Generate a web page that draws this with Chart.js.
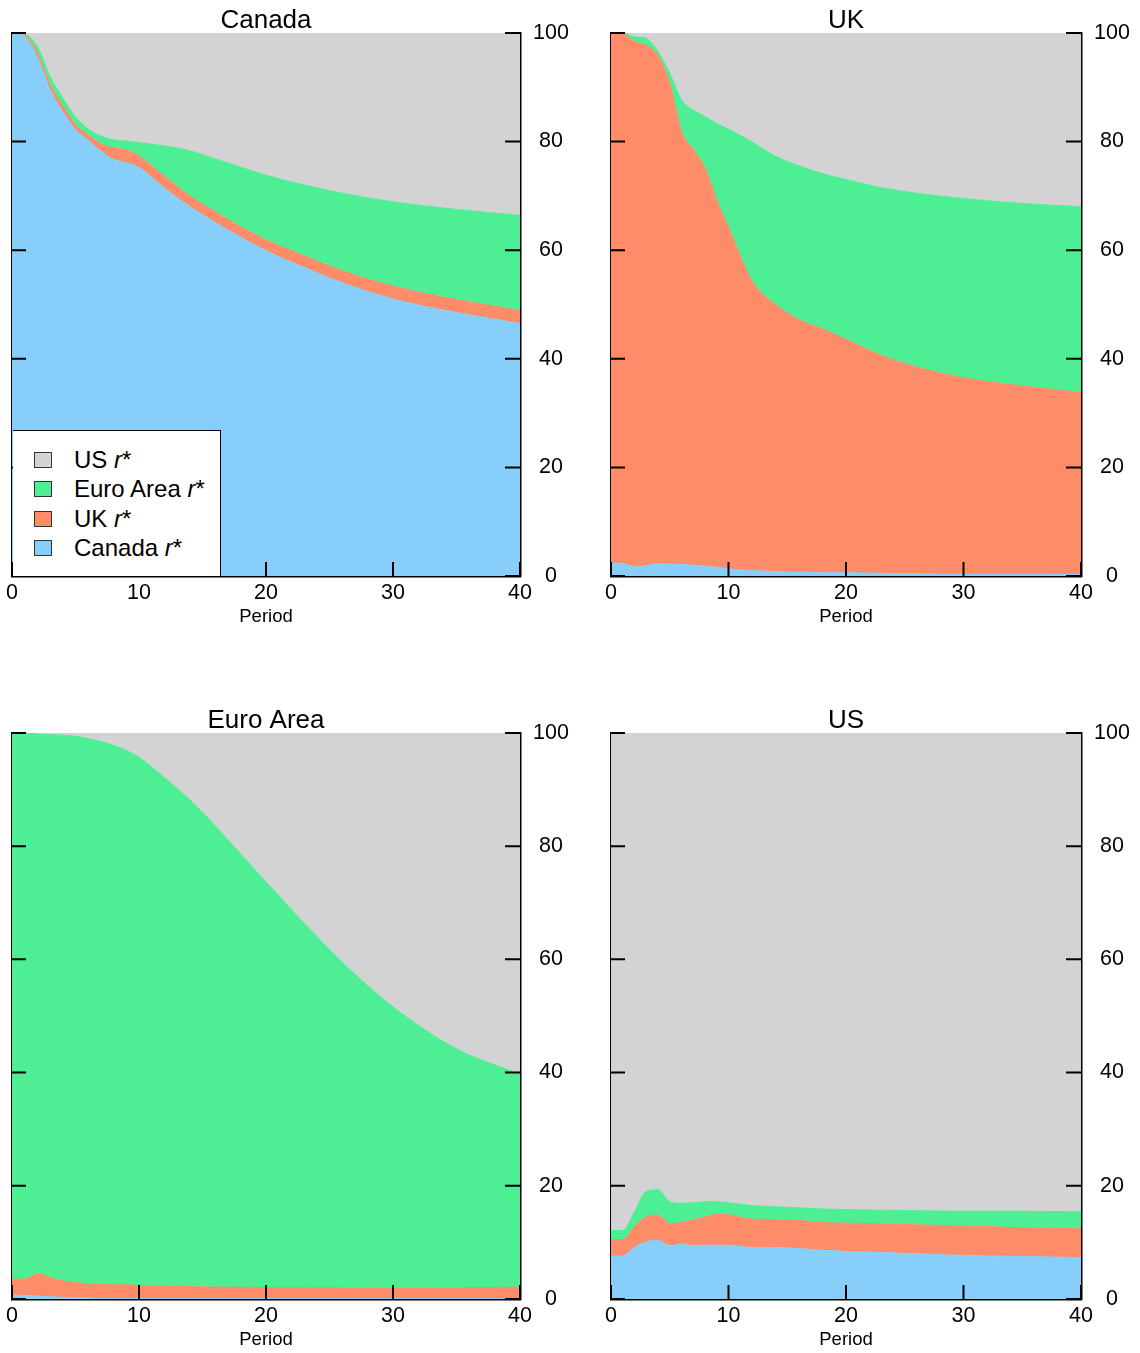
<!DOCTYPE html>
<html>
<head>
<meta charset="utf-8">
<script src="https://cdn.jsdelivr.net/npm/chart.js@4.4.1/dist/chart.umd.min.js"></script>
<style>
  body { margin: 0; background: #fff; width: 1140px; height: 1353px; position: relative; overflow: hidden;
         font-family: "Liberation Sans", Arial, sans-serif; }
  .panel { position: absolute; }
  .legend { position: absolute; left: 13px; top: 430px; width: 207px; height: 145px; background: #fff;
            border-top: 1px solid #000; border-right: 1px solid #000; font-size: 24px; color: #000; }
  .legend .row { position: absolute; left: 0; height: 30px; line-height: 30px; white-space: nowrap; }
  .legend .sw { position: absolute; left: 21px; top: 7px; width: 16px; height: 14px; border: 1px solid #333; }
  .legend .lab { position: absolute; left: 61px; top: 0; }
</style>
</head>
<body>

<div class="panel" id="p0"><canvas id="c0"></canvas></div>
<div class="panel" id="p1"><canvas id="c1"></canvas></div>
<div class="panel" id="p2"><canvas id="c2"></canvas></div>
<div class="panel" id="p3"><canvas id="c3"></canvas></div>

<div class="legend">
  <div class="row" style="top:14px"><span class="sw" style="background:#D3D3D3"></span><span class="lab">US <i>r</i>*</span></div>
  <div class="row" style="top:43px"><span class="sw" style="background:#4EEE94"></span><span class="lab">Euro Area <i>r</i>*</span></div>
  <div class="row" style="top:73px"><span class="sw" style="background:#FF8C69"></span><span class="lab">UK <i>r</i>*</span></div>
  <div class="row" style="top:102px"><span class="sw" style="background:#87CEFA"></span><span class="lab">Canada <i>r</i>*</span></div>
</div>

<script>
const periods = [0, 1, 2, 3, 4, 5, 6, 7, 8, 9, 10, 12, 14, 16, 18, 20, 23, 26, 30, 35, 40];
const xTicks = [0, 10, 20, 30, 40];
const yTicks = [0, 20, 40, 60, 80, 100];

// Panel "Canada": share of variance from each r*
const caCanada = [100, 99.3, 95.5, 89.5, 85.5, 82.2, 80.2, 78.2, 76.7, 76.1, 75.2, 71.4, 68.0, 65.1, 62.4, 59.9, 56.8, 54.0, 51.0, 48.5, 46.5];
const caUK     = [0, 0.3, 0.8, 1.0, 1.1, 0.9, 1.0, 1.4, 2.1, 2.4, 2.1, 2.2, 2.0, 2.0, 1.9, 2.0, 2.2, 2.2, 2.4, 2.4, 2.4];
const caEuro   = [0, 0.2, 1.2, 1.5, 1.4, 1.4, 1.1, 1.4, 1.5, 1.6, 2.5, 5.6, 8.3, 9.7, 11.0, 11.9, 13.0, 14.3, 15.5, 16.6, 17.5];
const caUS     = [0, 0.2, 2.5, 8.0, 12.0, 15.5, 17.7, 19.0, 19.7, 19.9, 20.2, 20.8, 21.7, 23.2, 24.7, 26.2, 28.0, 29.5, 31.1, 32.5, 33.6];

// Panel "UK"
const ukCanada = [2.4, 2.3, 1.7, 1.9, 2.3, 2.2, 2.1, 2.0, 1.8, 1.6, 1.3, 1.0, 0.8, 0.7, 0.6, 0.6, 0.5, 0.4, 0.3, 0.3, 0.3];
const ukUK     = [97.6, 97.6, 96.7, 95.8, 93.5, 88.5, 79.7, 76.5, 73.3, 67.6, 62.9, 53.3, 49.2, 46.5, 44.9, 43.0, 40.1, 38.1, 36.2, 34.7, 33.5];
const ukEuro   = [0, 0.1, 0.9, 1.3, 0.8, 1.9, 5.9, 7.3, 9.5, 14.1, 18.1, 25.6, 27.3, 28.3, 28.6, 29.4, 30.9, 32.0, 33.0, 33.6, 34.2];
const ukUS     = [0, 0, 0.7, 1.0, 3.4, 7.4, 12.3, 14.2, 15.4, 16.7, 17.7, 20.1, 22.7, 24.5, 25.9, 27.0, 28.5, 29.5, 30.5, 31.4, 32.0];

// Panel "Euro Area"
const eaCanada = [0.7, 0.6, 0.5, 0.4, 0.3, 0.2, 0.2, 0.1, 0.1, 0.1, 0.1, 0.1, 0.1, 0.1, 0.1, 0.1, 0.1, 0.1, 0.1, 0.1, 0.1];
const eaUK     = [2.8, 2.9, 4.0, 3.4, 2.9, 2.7, 2.5, 2.5, 2.4, 2.4, 2.3, 2.2, 2.1, 2.0, 2.0, 1.9, 1.9, 1.9, 1.8, 1.9, 2.0];
const eaEuro   = [96.5, 96.5, 95.3, 95.9, 96.4, 96.5, 96.3, 95.9, 95.3, 94.4, 93.3, 89.8, 86.0, 81.5, 76.5, 71.7, 64.4, 57.5, 49.7, 42.2, 37.6];
const eaUS     = [0, 0, 0.2, 0.3, 0.4, 0.6, 1.0, 1.5, 2.2, 3.1, 4.3, 7.9, 11.8, 16.4, 21.4, 26.3, 33.6, 40.5, 48.4, 55.8, 60.3];

// Panel "US"
const usCanada = [7.6, 7.6, 9.1, 10.1, 10.4, 9.4, 9.7, 9.4, 9.5, 9.5, 9.5, 9.1, 9.1, 8.9, 8.6, 8.4, 8.2, 8.0, 7.7, 7.5, 7.3];
const usUK     = [2.9, 2.9, 3.7, 4.4, 4.4, 3.9, 3.8, 4.6, 5.0, 5.5, 5.4, 5.0, 4.9, 5.0, 4.9, 5.0, 5.1, 5.1, 5.2, 5.1, 5.1];
const usEuro   = [1.6, 1.6, 2.6, 4.5, 4.5, 3.9, 3.4, 3.0, 2.7, 2.2, 2.1, 2.4, 2.3, 2.2, 2.4, 2.4, 2.4, 2.5, 2.6, 2.9, 3.0];
const usUS     = [87.9, 87.9, 84.6, 81.0, 80.7, 82.8, 83.1, 83.0, 82.8, 82.8, 83.0, 83.5, 83.7, 83.9, 84.1, 84.2, 84.3, 84.4, 84.5, 84.5, 84.6];

const seriesLabels = ['Canada r*', 'UK r*', 'Euro Area r*', 'US r*'];
const seriesColors = ['#87CEFA', '#FF8C69', '#4EEE94', '#D3D3D3'];

Chart.defaults.font.family = '"Liberation Sans", Arial, sans-serif';
Chart.defaults.color = '#000';

// tick marks pointing into the plot, like the original
const innerTicks = {
    id: 'innerTicks',
    afterDraw(chart) {
        const { ctx, chartArea: a, scales: { x, y } } = chart;
        ctx.save();
        ctx.strokeStyle = '#000';
        ctx.lineWidth = 2;
        ctx.beginPath();
        yTicks.forEach(v => {
            const py = y.getPixelForValue(v);
            ctx.moveTo(a.left, py); ctx.lineTo(a.left + 14, py);
            ctx.moveTo(a.right - 15, py); ctx.lineTo(a.right, py);
        });
        xTicks.forEach(v => {
            const px = x.getPixelForValue(v);
            ctx.moveTo(px, a.bottom); ctx.lineTo(px, a.bottom - 14);
        });
        ctx.stroke();
        ctx.restore();
    }
};

const panels = [
    { title: 'Canada',    left: 0,   top: 0,   w: 508, h: 543, series: [caCanada, caUK, caEuro, caUS] },
    { title: 'UK',        left: 599, top: 0,   w: 470, h: 543, series: [ukCanada, ukUK, ukEuro, ukUS] },
    { title: 'Euro Area', left: 0,   top: 700, w: 508, h: 566, series: [eaCanada, eaUK, eaEuro, eaUS] },
    { title: 'US',        left: 599, top: 700, w: 470, h: 566, series: [usCanada, usUK, usEuro, usUS] }
];

panels.forEach((p, i) => {
    const box = document.getElementById('p' + i);
    const canvas = document.getElementById('c' + i);
    const cw = 12 + p.w + 60;
    const ch = 33 + p.h + 52;
    box.style.left = p.left + 'px';
    box.style.top = p.top + 'px';
    canvas.width = cw; canvas.height = ch;
    canvas.style.width = cw + 'px'; canvas.style.height = ch + 'px';

    const datasets = p.series.map((vals, k) => ({
        label: seriesLabels[k],
        data: periods.map((t, j) => ({ x: t, y: vals[j] })),
        backgroundColor: seriesColors[k],
        borderColor: seriesColors[k],
        borderWidth: 1,
        pointRadius: 0,
        cubicInterpolationMode: 'monotone',
        fill: k === 0 ? 'origin' : '-1'
    }));

    new Chart(canvas.getContext('2d'), {
        type: 'line',
        data: { datasets },
        options: {
            responsive: false,
            animation: false,
            devicePixelRatio: 1,
            events: [],
            layout: { padding: { left: 12, right: 0, top: 0, bottom: 0 } },
            plugins: {
                legend: { display: false },
                tooltip: { enabled: false },
                title: {
                    display: true,
                    text: p.title,
                    fullSize: false,
                    font: { size: 26, weight: 'normal', lineHeight: 0.92 },
                    padding: { top: 9, bottom: 0 }
                }
            },
            scales: {
                x: {
                    type: 'linear',
                    min: 0, max: 40,
                    z: 1,
                    grid: { display: false, drawTicks: false },
                    border: { display: true, color: '#000', width: 2.5 },
                    ticks: { stepSize: 10, font: { size: 21.5 }, padding: 4, maxRotation: 0 },
                    title: { display: true, text: 'Period', font: { size: 18.5 }, padding: { top: 0, bottom: 0 } },
                    afterFit(s) { s.height = 52; }
                },
                y: {
                    position: 'right',
                    stacked: true,
                    min: 0, max: 100,
                    z: 1,
                    grid: { display: false, drawTicks: false },
                    border: { display: true, color: '#000', width: 2.5 },
                    ticks: { stepSize: 20, font: { size: 21.5 }, padding: 13, crossAlign: 'center' },
                    afterFit(s) { s.width = 60; }
                },
                yl: {
                    position: 'left',
                    min: 0, max: 100,
                    z: 1,
                    grid: { display: false, drawTicks: false },
                    border: { display: true, color: '#000', width: 2.5 },
                    ticks: { display: false },
                    afterFit(s) { s.width = 0; }
                }
            }
        },
        plugins: [innerTicks]
    });
});
</script>
</body>
</html>
